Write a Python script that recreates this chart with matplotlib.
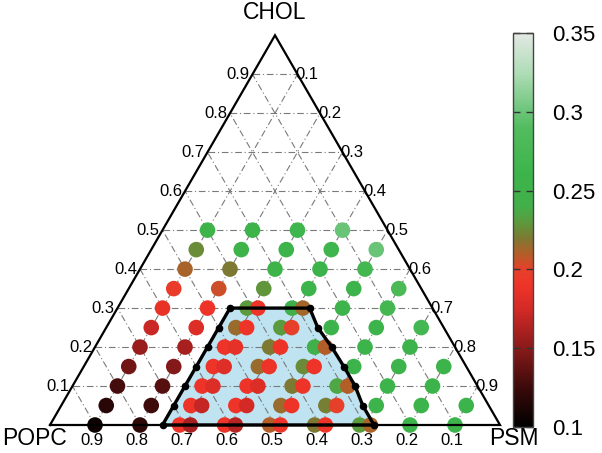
import matplotlib
matplotlib.use("Agg")
import matplotlib.pyplot as plt
import numpy as np
from matplotlib.colors import LinearSegmentedColormap, Normalize

plt.rcParams['font.family'] = ['Liberation Sans', 'DejaVu Sans']

nan = np.nan

# composition grid: rows of constant CHOL, columns of PSM
chol_levels = [0.00, 0.05, 0.10, 0.15, 0.20, 0.25, 0.30, 0.35, 0.40, 0.45, 0.50]
psm_levels = [0.1, 0.2, 0.3, 0.4, 0.5, 0.6, 0.7, 0.8, 0.9]

# one-phase values, one row per CHOL level (nan -> drawn as a pair below)
single_vals = [
    [0.105, 0.120, nan, nan, nan, nan, nan, 0.262, 0.262],
    [0.118, 0.126, nan, nan, nan, nan, 0.262, 0.262, 0.262],
    [0.128, 0.134, nan, nan, nan, nan, 0.262, 0.262],
    [0.142, 0.148, nan, nan, nan, 0.262, 0.262, 0.262],
    [0.155, 0.160, nan, nan, nan, 0.262, 0.262],
    [0.172, 0.180, nan, nan, 0.262, 0.262, 0.272],
    [0.186, 0.190, nan, nan, 0.262, 0.270],
    [0.195, 0.205, 0.228, 0.260, 0.262, 0.278],
    [0.212, 0.220, 0.255, 0.262, 0.270],
    [0.225, 0.255, 0.260, 0.265, 0.300],
    [0.255, 0.260, 0.265, 0.300],
]

# two-phase compositions (shaded region): left dot / right dot values
pair_chol = [0.00, 0.00, 0.00, 0.00, 0.00, 0.05, 0.05, 0.05, 0.05, 0.10, 0.10, 0.10,
             0.10, 0.15, 0.15, 0.15, 0.20, 0.20, 0.20, 0.25, 0.25, 0.30, 0.30]
pair_psm = [0.3, 0.4, 0.5, 0.6, 0.7, 0.3, 0.4, 0.5, 0.6, 0.3, 0.4, 0.5,
            0.6, 0.3, 0.4, 0.5, 0.3, 0.4, 0.5, 0.3, 0.4, 0.3, 0.4]
pair_left = [0.190, 0.190, 0.210, 0.220, 0.230, 0.190, 0.190, 0.215, 0.222, 0.190, 0.190, 0.220,
             0.235, 0.190, 0.215, 0.225, 0.190, 0.220, 0.240, 0.215, 0.230, 0.230, 0.245]
pair_right = [0.160, 0.165, 0.190, 0.190, 0.212, 0.170, 0.175, 0.190, 0.200, 0.180, 0.180, 0.190,
              0.210, 0.182, 0.190, 0.190, 0.185, 0.190, 0.210, 0.190, 0.200, 0.190, 0.213]

# boundary of the two-phase region
bnd_chol = [0.00, 0.05, 0.10, 0.15, 0.20, 0.25, 0.30]
bnd_left_psm = [0.25, 0.25, 0.25, 0.25, 0.25, 0.25, 0.25]
bnd_right_popc = [0.28, 0.28, 0.272, 0.272, 0.274, 0.28, 0.273]

grid_ticks = [0.1, 0.2, 0.3, 0.4, 0.5, 0.6, 0.7, 0.8, 0.9]
cbar_ticks = [0.1, 0.15, 0.2, 0.25, 0.3, 0.35]
cbar_labels = ['0.1', '0.15', '0.2', '0.25', '0.3', '0.35']

S3 = np.sqrt(3) / 2


def tern(psm, chol):
    psm = np.asarray(psm, dtype=float)
    chol = np.asarray(chol, dtype=float)
    return psm + chol / 2, chol * S3


cmap_nodes = [
    (0.100, '#000000'), (0.125, '#3c0a0a'), (0.150, '#8a1a1a'), (0.175, '#d42a26'),
    (0.190, '#ee3429'), (0.200, '#e6402a'), (0.210, '#b25e28'), (0.220, '#7c7a32'),
    (0.230, '#5c9a3e'), (0.240, '#42b04a'), (0.260, '#3cb44a'), (0.290, '#52bc5e'),
    (0.300, '#6ac478'), (0.325, '#afdcb6'), (0.350, '#e2e8e4'),
]
vmin, vmax = 0.1, 0.35
cmap = LinearSegmentedColormap.from_list(
    'lipid', [((v - vmin) / (vmax - vmin), c) for v, c in cmap_nodes])
norm = Normalize(vmin, vmax)

fig = plt.figure(figsize=(6.02, 4.53), dpi=100)
ax = fig.add_axes([0, 0, 505 / 602, 1])
ax.set_xlim(-50 / 450, 455 / 450)
ax.set_ylim(-28 / 450, 425 / 450)
ax.axis('off')

# shaded two-phase region
right_psm = [1 - p - c for p, c in zip(bnd_right_popc, bnd_chol)]
poly_psm = list(bnd_left_psm) + right_psm[::-1]
poly_chol = list(bnd_chol) + bnd_chol[::-1]
px, py = tern(poly_psm, poly_chol)
ax.fill(px, py, color='#bfe3f1', zorder=1, lw=0)

# grid
gstyle = dict(color='#7a7a7a', lw=0.8, ls=(0, (6, 2.5, 1, 2.5)), zorder=2)
for v in grid_ticks:
    x, y = tern([0, 1 - v], [v, v])
    ax.plot(x, y, **gstyle)
    x, y = tern([v, v], [0, 1 - v])
    ax.plot(x, y, **gstyle)
    x, y = tern([1 - v, 0], [0, 1 - v])
    ax.plot(x, y, **gstyle)

# single points
sx, sy, sv = [], [], []
for c, row in zip(chol_levels, single_vals):
    for p, v in zip(psm_levels, row):
        if not np.isnan(v):
            sx.append(p)
            sy.append(c)
            sv.append(v)
x, y = tern(sx, sy)
ax.scatter(x, y, c=sv, cmap=cmap, norm=norm, s=126, lw=0, zorder=3)

# paired points
dx = 0.012
x, y = tern(pair_psm, pair_chol)
ax.scatter(x - dx, y, c=pair_left, cmap=cmap, norm=norm, s=126, lw=0, zorder=3)
ax.scatter(x + dx, y, c=pair_right, cmap=cmap, norm=norm, s=126, lw=0, zorder=3.1)

# triangle
tx, ty = tern([0, 1, 0, 0], [0, 0, 1, 0])
ax.plot(tx, ty, color='black', lw=1.6, zorder=4, solid_joinstyle='miter')

# region outline and boundary dots
ax.plot(list(px) + [px[0]], list(py) + [py[0]], color='black', lw=2.4, zorder=5)
bx, by = tern(bnd_left_psm, bnd_chol)
ax.scatter(bx, by, color='black', s=20, zorder=6)
bx, by = tern(right_psm, bnd_chol)
ax.scatter(bx, by, color='black', s=20, zorder=6)

# tick labels
for v in grid_ticks:
    x, y = tern(0, v)
    ax.text(x - 0.006, y, f'{v:.1f}', ha='right', va='center', fontsize=12)
    x, y = tern(v, 1 - v)
    ax.text(x - 0.004, y, f'{v:.1f}', ha='left', va='center', fontsize=12)
    x, y = tern(v, 0)
    ax.text(x - 0.006, -0.034, f'{1 - v:.1f}', ha='center', va='center', fontsize=12)

ax.text(0.5, 0.916, 'CHOL', ha='center', va='center', fontsize=16.5)
ax.text(-0.034, -0.031, 'POPC', ha='center', va='center', fontsize=16.5)
ax.text(1.031, -0.031, 'PSM', ha='center', va='center', fontsize=16.5)

# colorbar
cax = fig.add_axes([513 / 602, (453 - 427) / 453, 20 / 602, 394 / 453])
sm = plt.cm.ScalarMappable(norm=norm, cmap=cmap)
cb = fig.colorbar(sm, cax=cax, ticks=cbar_ticks)
cb.ax.set_yticklabels(cbar_labels)
cb.ax.tick_params(direction='in', length=5, width=1, color='#333333',
                  left=True, right=True, labelsize=16, pad=14)
cb.outline.set_edgecolor('#444444')
cb.outline.set_linewidth(1)

fig.savefig('out.png', dpi=100)
